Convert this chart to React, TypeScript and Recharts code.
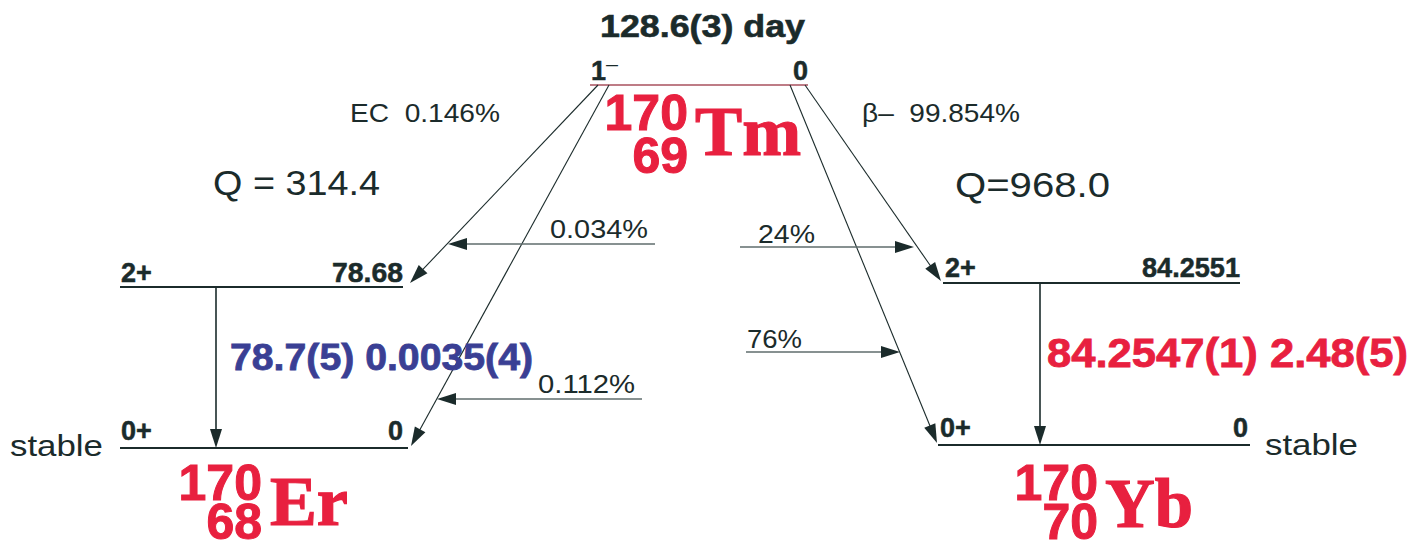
import React from "react";
import { ReferenceLine, Scatter, ScatterChart, XAxis, YAxis } from "recharts";

// decay scheme values
const halfLife = "128.6(3) day";
const parentSpin = ["1", "–"];
const parentEnergy = "0";
const erLevels = [
  { spin: "0+", energy: "0" },
  { spin: "2+", energy: "78.68" },
];
const ybLevels = [
  { spin: "0+", energy: "0" },
  { spin: "2+", energy: "84.2551" },
];
const branchLabels = ["EC  0.146%", "β–  99.854%"];
const qValues = ["Q = 314.4", "Q=968.0"];
const feedingLabels = ["0.034%", "0.112%", "24%", "76%"];
const gammaLabels = ["78.7(5) 0.0035(4)", "84.2547(1) 2.48(5)"];
const nuclides = [
  { mass: "170", z: "69", sym: "Tm" },
  { mass: "170", z: "68", sym: "Er" },
  { mass: "170", z: "70", sym: "Yb" },
];

const W = 1426;
const H = 550;
const DARK = "#1b2b2b";
const RED = "#e8203f";
const BLUE = "#3a3f94";
const GREY = "#5f6d6d";
const SANS = "'Liberation Sans', Arial, Helvetica, sans-serif";
const SERIF = "'Liberation Serif', 'Times New Roman', serif";

type Kind = "title" | "spin" | "sup" | "small" | "q" | "blue" | "red" | "mass" | "sym" | "stable";

const textStyles: Record<Kind, { size: number; weight: number; color: string; family: string; stroke: number }> = {
  title: { size: 31, weight: 700, color: DARK, family: SANS, stroke: 0.6 },
  spin: { size: 27, weight: 700, color: DARK, family: SANS, stroke: 0.5 },
  sup: { size: 18, weight: 400, color: DARK, family: SANS, stroke: 0 },
  small: { size: 25, weight: 400, color: DARK, family: SANS, stroke: 0 },
  q: { size: 35, weight: 400, color: DARK, family: SANS, stroke: 0 },
  blue: { size: 37, weight: 700, color: BLUE, family: SANS, stroke: 0.8 },
  red: { size: 40, weight: 700, color: RED, family: SANS, stroke: 0.8 },
  mass: { size: 50, weight: 700, color: RED, family: SANS, stroke: 1 },
  sym: { size: 70, weight: 700, color: RED, family: SERIF, stroke: 1.2 },
  stable: { size: 30, weight: 400, color: DARK, family: SANS, stroke: 0 },
};

interface Annot {
  x: number;
  y: number;
  text: string;
  kind: Kind;
  end?: boolean;
  len?: number;
}

const annotations: Annot[] = [
  { x: 600, y: 37, text: halfLife, kind: "title", len: 205 },
  { x: 591, y: 80, text: parentSpin[0], kind: "spin" },
  { x: 606, y: 70, text: parentSpin[1], kind: "sup", len: 12 },
  { x: 808, y: 80, text: parentEnergy, kind: "spin", end: true },
  { x: 350, y: 122, text: branchLabels[0], kind: "small", len: 150 },
  { x: 862, y: 122, text: branchLabels[1], kind: "small", len: 158 },
  { x: 213, y: 195, text: qValues[0], kind: "q", len: 167 },
  { x: 955, y: 197, text: qValues[1], kind: "q", len: 155 },
  { x: 550, y: 238, text: feedingLabels[0], kind: "small", len: 98 },
  { x: 538, y: 393, text: feedingLabels[1], kind: "small", len: 97 },
  { x: 758, y: 243, text: feedingLabels[2], kind: "small", len: 57 },
  { x: 747, y: 348, text: feedingLabels[3], kind: "small", len: 55 },
  { x: 121, y: 282, text: erLevels[1].spin, kind: "spin" },
  { x: 403, y: 282, text: erLevels[1].energy, kind: "spin", end: true, len: 71 },
  { x: 121, y: 440, text: erLevels[0].spin, kind: "spin" },
  { x: 403, y: 440, text: erLevels[0].energy, kind: "spin", end: true },
  { x: 945, y: 277, text: ybLevels[1].spin, kind: "spin" },
  { x: 1240, y: 277, text: ybLevels[1].energy, kind: "spin", end: true, len: 98 },
  { x: 940, y: 437, text: ybLevels[0].spin, kind: "spin" },
  { x: 1248, y: 437, text: ybLevels[0].energy, kind: "spin", end: true },
  { x: 10, y: 456, text: "stable", kind: "stable", len: 93 },
  { x: 1265, y: 455, text: "stable", kind: "stable", len: 93 },
  { x: 230, y: 370, text: gammaLabels[0], kind: "blue", len: 303 },
  { x: 1047, y: 367, text: gammaLabels[1], kind: "red", len: 361 },
  { x: 688, y: 130, text: nuclides[0].mass, kind: "mass", end: true },
  { x: 688, y: 173, text: nuclides[0].z, kind: "mass", end: true },
  { x: 695, y: 155, text: nuclides[0].sym, kind: "sym", len: 106 },
  { x: 262, y: 500, text: nuclides[1].mass, kind: "mass", end: true },
  { x: 262, y: 539, text: nuclides[1].z, kind: "mass", end: true },
  { x: 270, y: 525, text: nuclides[1].sym, kind: "sym", len: 78 },
  { x: 1098, y: 500, text: nuclides[2].mass, kind: "mass", end: true },
  { x: 1098, y: 539, text: nuclides[2].z, kind: "mass", end: true },
  { x: 1105, y: 527, text: nuclides[2].sym, kind: "sym", len: 88 },
];

interface Seg {
  from: [number, number];
  to: [number, number];
  color: string;
  width: number;
  arrow?: boolean;
}

const segments: Seg[] = [
  // levels
  { from: [590, 85], to: [808, 85], color: "#a8505e", width: 1.5 },
  { from: [120, 287], to: [403, 287], color: DARK, width: 2 },
  { from: [120, 448], to: [408, 448], color: DARK, width: 2 },
  { from: [943, 283], to: [1240, 283], color: DARK, width: 2 },
  { from: [938, 445], to: [1250, 445], color: DARK, width: 2 },
  // decay branches
  { from: [598, 85], to: [410, 283], color: DARK, width: 1.1, arrow: true },
  { from: [609, 85], to: [411, 446], color: DARK, width: 1.1, arrow: true },
  { from: [805, 85], to: [941, 281], color: DARK, width: 1.1, arrow: true },
  { from: [790, 85], to: [937, 443], color: DARK, width: 1.1, arrow: true },
  // gammas
  { from: [216, 287], to: [216, 448], color: DARK, width: 1.6, arrow: true },
  { from: [1040, 283], to: [1040, 445], color: DARK, width: 1.6, arrow: true },
  // feeding intensities
  { from: [655, 244], to: [448, 244], color: GREY, width: 1.3, arrow: true },
  { from: [642, 399], to: [437, 399], color: GREY, width: 1.3, arrow: true },
  { from: [740, 247], to: [914, 247], color: GREY, width: 1.3, arrow: true },
  { from: [746, 352], to: [900, 352], color: GREY, width: 1.3, arrow: true },
];

function makeShape(seg: Seg) {
  return (p: any) => {
    const x1 = Number(p.x1);
    const y1 = Number(p.y1);
    const x2 = Number(p.x2);
    const y2 = Number(p.y2);
    if (!seg.arrow) {
      return <line x1={x1} y1={y1} x2={x2} y2={y2} stroke={seg.color} strokeWidth={seg.width} />;
    }
    const dx = x2 - x1;
    const dy = y2 - y1;
    const len = Math.hypot(dx, dy) || 1;
    const ux = dx / len;
    const uy = dy / len;
    const hl = 19;
    const hw = 6;
    const bx = x2 - ux * hl;
    const by = y2 - uy * hl;
    const pts = `${x2},${y2} ${bx - uy * hw},${by + ux * hw} ${bx + uy * hw},${by - ux * hw}`;
    return (
      <g>
        <line x1={x1} y1={y1} x2={bx + ux * 2} y2={by + uy * 2} stroke={seg.color} strokeWidth={seg.width} />
        <polygon points={pts} fill={DARK} />
      </g>
    );
  };
}

function TextMark(props: any) {
  const a: Annot = props.payload;
  const st = textStyles[a.kind];
  return (
    <text
      x={props.cx}
      y={props.cy}
      textAnchor={a.end ? "end" : "start"}
      fontFamily={st.family}
      fontSize={st.size}
      fontWeight={st.weight}
      fill={st.color}
      stroke={st.stroke ? st.color : undefined}
      strokeWidth={st.stroke || undefined}
      textLength={a.len}
      lengthAdjust={a.len ? "spacingAndGlyphs" : undefined}
      style={{ whiteSpace: "pre" }}
    >
      {a.text}
    </text>
  );
}

export default function App() {
  return (
    <div style={{ position: "absolute", left: 0, top: 0, background: "#fff" }}>
      <ScatterChart width={W} height={H} margin={{ top: 0, right: 0, bottom: 0, left: 0 }}>
        <XAxis type="number" dataKey="x" domain={[0, W]} allowDataOverflow hide />
        <YAxis type="number" dataKey="y" domain={[0, H]} allowDataOverflow reversed hide />
        {segments.map((s, i) => (
          <ReferenceLine
            key={i}
            segment={[
              { x: s.from[0], y: s.from[1] },
              { x: s.to[0], y: s.to[1] },
            ]}
            ifOverflow="visible"
            shape={makeShape(s)}
          />
        ))}
        <Scatter data={annotations} shape={TextMark} isAnimationActive={false} />
      </ScatterChart>
    </div>
  );
}
